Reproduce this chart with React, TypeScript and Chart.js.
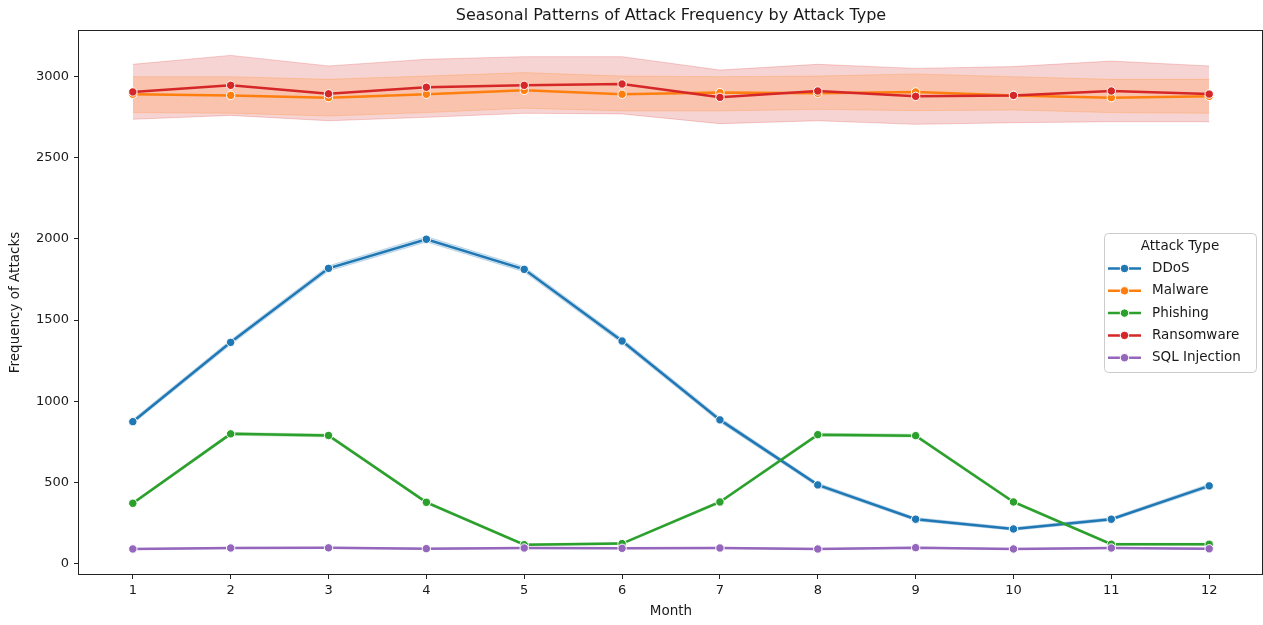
import { useEffect, useRef } from 'react';
import { Chart, registerables } from 'chart.js';

Chart.register(...registerables);

// Month axis and value ticks
const months = [1, 2, 3, 4, 5, 6, 7, 8, 9, 10, 11, 12];
const yTicks = [0, 500, 1000, 1500, 2000, 2500, 3000];

// Mean monthly attack counts with 95% confidence bounds
const ddosMean = [875, 1363, 1818, 1997, 1812, 1371, 886, 486, 275, 215, 275, 480];
const ddosLow = [862, 1348, 1802, 1980, 1796, 1356, 872, 474, 265, 206, 265, 468];
const ddosHigh = [889, 1378, 1834, 2014, 1828, 1386, 900, 498, 285, 224, 285, 492];

const malwareMean = [2889, 2882, 2868, 2889, 2913, 2889, 2899, 2895, 2903, 2882, 2868, 2876];
const malwareLow = [2776, 2772, 2755, 2776, 2803, 2786, 2786, 2796, 2788, 2792, 2776, 2772];
const malwareHigh = [2997, 2997, 2981, 3001, 3022, 3001, 2997, 3001, 3014, 2997, 2981, 2981];

const phishingMean = [373, 800, 790, 379, 118, 125, 381, 795, 789, 381, 121, 121];
const phishingLow = [365, 791, 781, 371, 112, 119, 373, 786, 780, 373, 115, 115];
const phishingHigh = [381, 809, 799, 387, 124, 131, 389, 804, 798, 389, 127, 127];

const ransomwareMean = [2903, 2944, 2892, 2932, 2944, 2952, 2870, 2909, 2876, 2882, 2909, 2890];
const ransomwareLow = [2735, 2759, 2726, 2747, 2772, 2768, 2708, 2726, 2704, 2714, 2720, 2720];
const ransomwareHigh = [3073, 3128, 3063, 3104, 3120, 3120, 3038, 3073, 3048, 3059, 3093, 3063];

const sqlMean = [92, 98, 99, 94, 98, 96, 98, 92, 100, 92, 98, 93];
const sqlLow = [88, 94, 95, 90, 94, 92, 94, 88, 96, 88, 94, 89];
const sqlHigh = [96, 102, 103, 98, 102, 100, 102, 96, 104, 96, 102, 97];

const attackTypes = ['DDoS', 'Malware', 'Phishing', 'Ransomware', 'SQL Injection'];
const palette = ['#1f77b4', '#ff7f0e', '#2ca02c', '#d62728', '#9467bd'];

const series = [
  { mean: ddosMean, low: ddosLow, high: ddosHigh },
  { mean: malwareMean, low: malwareLow, high: malwareHigh },
  { mean: phishingMean, low: phishingLow, high: phishingHigh },
  { mean: ransomwareMean, low: ransomwareLow, high: ransomwareHigh },
  { mean: sqlMean, low: sqlLow, high: sqlHigh },
];

const FONT = "'DejaVu Sans', sans-serif";
const TEXT = '#1a1a1a';

function rgba(hex: string, a: number) {
  const n = parseInt(hex.slice(1), 16);
  return `rgba(${(n >> 16) & 255}, ${(n >> 8) & 255}, ${n & 255}, ${a})`;
}

const toPoints = (vals: number[]) => months.map((m, i) => ({ x: m, y: vals[i] }));

// Frame around the plotting area
const framePlugin = {
  id: 'frame',
  afterDatasetsDraw(chart: any) {
    const { ctx, chartArea: a } = chart;
    ctx.save();
    ctx.strokeStyle = '#222';
    ctx.lineWidth = 1;
    ctx.strokeRect(Math.round(a.left) - 0.5, Math.round(a.top) - 0.5, Math.round(a.right - a.left), Math.round(a.bottom - a.top) + 1);
    ctx.restore();
  },
};

// Title centred over the plotting area
const titlePlugin = {
  id: 'axesTitle',
  afterDraw(chart: any) {
    const { ctx, chartArea: a } = chart;
    ctx.save();
    ctx.font = `16px ${FONT}`;
    ctx.fillStyle = TEXT;
    ctx.textAlign = 'center';
    ctx.textBaseline = 'middle';
    ctx.fillText('Seasonal Patterns of Attack Frequency by Attack Type', (a.left + a.right) / 2, 16);
    ctx.restore();
  },
};

// Boxed legend with line-and-marker handles
const legendPlugin = {
  id: 'boxLegend',
  afterDraw(chart: any) {
    const { ctx } = chart;
    const x0 = 1104.5, y0 = 233.5, w = 152, h = 139;
    ctx.save();
    ctx.beginPath();
    ctx.roundRect(x0, y0, w, h, 4);
    ctx.fillStyle = 'rgba(255,255,255,0.85)';
    ctx.fill();
    ctx.strokeStyle = '#cccccc';
    ctx.lineWidth = 1;
    ctx.stroke();

    ctx.font = `13.5px ${FONT}`;
    ctx.fillStyle = TEXT;
    ctx.textBaseline = 'middle';
    ctx.textAlign = 'center';
    ctx.fillText('Attack Type', 1180, 246);

    ctx.textAlign = 'left';
    attackTypes.forEach((name, i) => {
      const y = 268.5 + i * 22.3;
      const c = palette[i];
      ctx.strokeStyle = c;
      ctx.lineWidth = 2.5;
      ctx.beginPath();
      ctx.moveTo(1108, y);
      ctx.lineTo(1141, y);
      ctx.stroke();
      ctx.beginPath();
      ctx.arc(1124.5, y, 4.2, 0, Math.PI * 2);
      ctx.fillStyle = c;
      ctx.fill();
      ctx.strokeStyle = '#fff';
      ctx.lineWidth = 1;
      ctx.stroke();
      ctx.fillStyle = TEXT;
      ctx.fillText(name, 1152, y);
    });
    ctx.restore();
  },
};

export default function App() {
  const canvasRef = useRef<HTMLCanvasElement | null>(null);

  useEffect(() => {
    const canvas = canvasRef.current;
    if (!canvas) return;

    const datasets: any[] = [];
    series.forEach((s, i) => {
      datasets.push({
        label: `${attackTypes[i]} low`,
        data: toPoints(s.low),
        borderColor: rgba(palette[i], 0.22),
        borderWidth: 1,
        pointRadius: 0,
        fill: false,
        order: 10,
      });
      datasets.push({
        label: `${attackTypes[i]} high`,
        data: toPoints(s.high),
        borderColor: rgba(palette[i], 0.22),
        borderWidth: 1,
        backgroundColor: rgba(palette[i], 0.2),
        pointRadius: 0,
        fill: '-1',
        order: 10,
      });
    });
    series.forEach((s, i) => {
      datasets.push({
        label: attackTypes[i],
        data: toPoints(s.mean),
        borderColor: palette[i],
        backgroundColor: palette[i],
        borderWidth: 2.5,
        pointRadius: 4.2,
        pointBackgroundColor: palette[i],
        pointBorderColor: '#ffffff',
        pointBorderWidth: 1,
        fill: false,
        tension: 0,
        order: 5 - i,
      });
    });

    const tickFont = { family: FONT, size: 13 };
    const chart = new Chart(canvas, {
      type: 'line',
      data: { datasets },
      options: {
        responsive: false,
        animation: false,
        events: [],
        layout: { autoPadding: false, padding: { top: 31, left: 0, right: 0, bottom: 0 } },
        plugins: {
          legend: { display: false },
          tooltip: { enabled: false },
          title: { display: false },
          filler: { drawTime: 'beforeDatasetsDraw' },
        },
        scales: {
          x: {
            type: 'linear',
            min: 0.45,
            max: 12.55,
            afterBuildTicks: (axis: any) => {
              axis.ticks = months.map((v) => ({ value: v }));
            },
            afterFit: (scale: any) => {
              scale.height = 51;
              scale.paddingLeft = 0;
              scale.paddingRight = 0;
            },
            ticks: {
              font: tickFont,
              color: TEXT,
              padding: 4,
              autoSkip: false,
              maxRotation: 0,
              callback: (v: any) => String(v),
            },
            grid: { drawOnChartArea: false, drawTicks: true, tickLength: 5, tickColor: '#222', tickWidth: 1 },
            border: { display: false },
            title: { display: true, text: 'Month', font: { family: FONT, size: 13.5 }, color: TEXT, padding: { top: 0, bottom: 5 } },
          },
          y: {
            type: 'linear',
            min: -62,
            max: 3278,
            afterBuildTicks: (axis: any) => {
              axis.ticks = yTicks.map((v) => ({ value: v }));
            },
            afterFit: (scale: any) => {
              scale.width = 79;
              scale.paddingTop = 0;
              scale.paddingBottom = 0;
            },
            ticks: {
              font: tickFont,
              color: TEXT,
              padding: 5,
              callback: (v: any) => String(v),
            },
            grid: { drawOnChartArea: false, drawTicks: true, tickLength: 5, tickColor: '#222', tickWidth: 1 },
            border: { display: false },
            title: { display: true, text: 'Frequency of Attacks', font: { family: FONT, size: 13.5 }, color: TEXT, padding: { top: 7, bottom: 0 } },
          },
        },
      },
      plugins: [framePlugin, titlePlugin, legendPlugin],
    } as any);

    return () => chart.destroy();
  }, []);

  return (
    <div style={{ position: 'absolute', left: 0, top: 0, width: 1263, height: 625, background: '#fff' }}>
      <canvas ref={canvasRef} width={1263} height={625} />
    </div>
  );
}
